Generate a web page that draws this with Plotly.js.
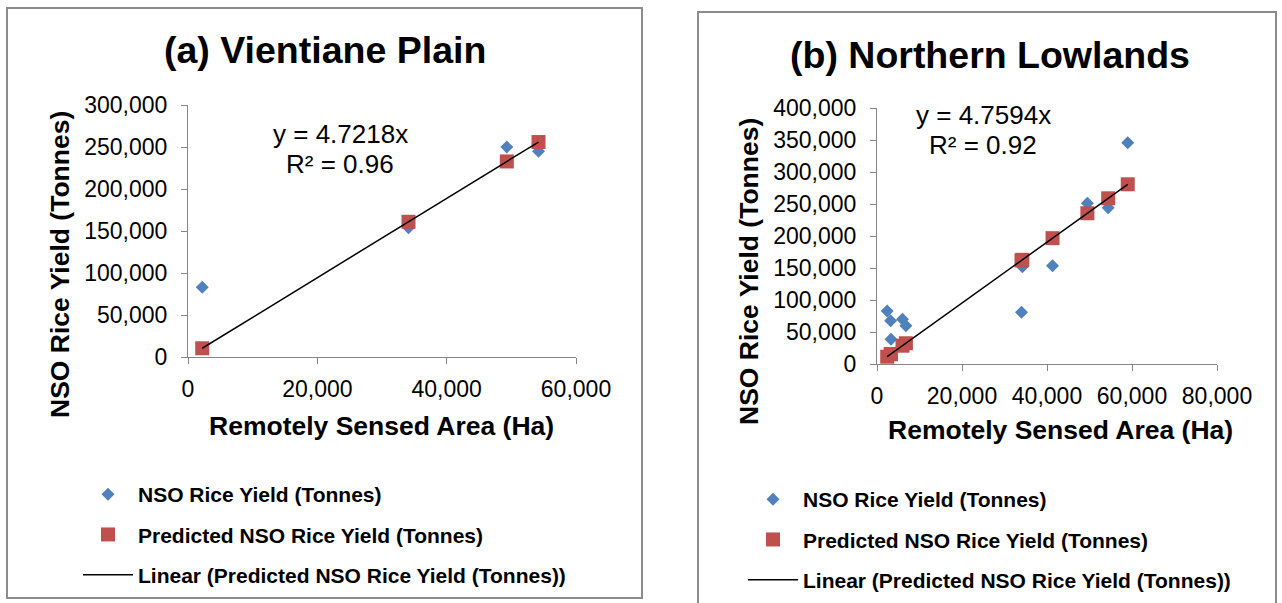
<!DOCTYPE html>
<html>
<head>
<meta charset="utf-8">
<script src="https://cdn.plot.ly/plotly-3.0.1.min.js"></script>
<style>html,body{margin:0;padding:0;background:#fff;}#chart{width:1282px;height:603px;}</style>
</head>
<body>
<div id="chart"></div>
<script>
// ---- Data ----
// (a) Vientiane Plain
const vpArea      = [2200, 34100, 49300, 54200];          // Remotely sensed area (Ha)
const vpNSO       = [83000, 154000, 250000, 245000];      // NSO rice yield (t)
const vpPredicted = [10400, 161000, 232800, 255900];      // predicted yield (t)
const vpTrendX    = [2200, 54200];
const vpTrendY    = [10400, 255900];
const vpEquation  = ["y = 4.7218x", "R² = 0.96"];

// (b) Northern Lowlands
const nlArea      = [2400, 3200, 3300, 6000, 6800, 34000, 34200, 41300, 49500, 54400, 59000];
const nlNSO       = [82800, 67700, 38600, 69800, 59900, 80800, 152000, 153600, 251000, 244000, 345800];
const nlPredicted = [11400, 15200, 15700, 28600, 32400, 161800, 162800, 196600, 235600, 258900, 280800];
const nlTrendX    = [2400, 59000];
const nlTrendY    = [11400, 280800];
const nlEquation  = ["y = 4.7594x", "R² = 0.92"];

const seriesNames = ["NSO Rice Yield (Tonnes)", "Predicted NSO Rice Yield (Tonnes)", "Linear (Predicted NSO Rice Yield (Tonnes))"];
const panelTitles = ["(a) Vientiane Plain", "(b) Northern Lowlands"];
const xTitle = "Remotely Sensed Area (Ha)";
const yTitle = "NSO Rice Yield (Tonnes)";

// ---- Styling ----
const W = 1282, H = 603;
const FONT = "Liberation Sans, Arial, sans-serif";
const BLUE = "#4F81BD", RED = "#C0504D", AXIS = "#868686";
const px = v => v / W;
const py = v => 1 - v / H;

function scatterSet(x, nso, pred, tx, ty, xa, ya, leg) {
  return [
    {x: x, y: nso, type: "scatter", mode: "markers", name: seriesNames[0],
     xaxis: xa, yaxis: ya, legend: leg, legendgroup: leg + "a",
     marker: {symbol: "diamond", size: 10, color: BLUE, line: {width: 0}}},
    {x: x, y: pred, type: "scatter", mode: "markers", name: seriesNames[1],
     xaxis: xa, yaxis: ya, legend: leg, legendgroup: leg + "b",
     marker: {symbol: "square", size: 14, color: RED, line: {width: 0}}},
    {x: tx, y: ty, type: "scatter", mode: "lines", name: seriesNames[2],
     xaxis: xa, yaxis: ya, legend: leg, legendgroup: leg + "c",
     line: {color: "#000000", width: 1.5}}
  ];
}

const data = [
  ...scatterSet(vpArea, vpNSO, vpPredicted, vpTrendX, vpTrendY, "x", "y", "legend"),
  ...scatterSet(nlArea, nlNSO, nlPredicted, nlTrendX, nlTrendY, "x2", "y2", "legend2")
];

function axis(domain, range, dtick, anchor, standoff) {
  return {
    domain: domain, range: range, dtick: dtick, tick0: 0, anchor: anchor,
    showgrid: false, zeroline: false, showline: true, linecolor: AXIS, linewidth: 1,
    ticks: "outside", ticklen: 6, tickcolor: AXIS, tickwidth: 1,
    tickformat: ",d", ticklabelstandoff: standoff,
    tickfont: {family: FONT, size: 23, color: "#000"}, fixedrange: true
  };
}

const legendBase = {
  xanchor: "left", yanchor: "top", bgcolor: "rgba(0,0,0,0)", borderwidth: 0,
  font: {family: FONT, size: 21, color: "#000", weight: 700},
  tracegroupgap: 10, itemwidth: 50
};

const ann = (text, x, y, size, bold, angle) => ({
  text: text, xref: "paper", yref: "paper", x: px(x), y: py(y),
  xanchor: "center", yanchor: "middle", showarrow: false, textangle: angle || 0,
  font: {family: FONT, size: size, color: "#000", weight: bold ? 700 : 400}
});

const layout = {
  width: W, height: H,
  margin: {l: 0, r: 0, t: 0, b: 0},
  paper_bgcolor: "#fff", plot_bgcolor: "#fff",
  showlegend: true,
  xaxis:  axis([px(188), px(576)], [0, 60000], 20000, "y", 5),
  yaxis:  axis([py(357), py(105)], [0, 300000], 50000, "x", 9),
  xaxis2: axis([px(877), px(1217)], [0, 80000], 20000, "y2", 5),
  yaxis2: axis([py(364), py(108)], [0, 400000], 50000, "x2", 9),
  legend:  Object.assign({}, legendBase, {x: px(78), y: py(474)}),
  legend2: Object.assign({}, legendBase, {x: px(743), y: py(479)}),
  annotations: [
    ann(panelTitles[0], 325, 50, 37.5, true),
    ann(panelTitles[1], 990, 55, 37.5, true),
    ann(xTitle, 381, 426, 26.5, true),
    ann(xTitle, 1060, 430, 26.5, true),
    ann(yTitle, 60, 265, 26.5, true, -90),
    ann(yTitle, 749, 272, 26.5, true, -90),
    ann(vpEquation[0], 340, 134, 26, false),
    ann(vpEquation[1], 340, 164, 26, false),
    ann(nlEquation[0], 983, 115, 26, false),
    ann(nlEquation[1], 983, 145, 26, false)
  ],
  shapes: [
    {type: "rect", xref: "paper", yref: "paper", x0: px(7), x1: px(642), y0: py(598), y1: py(8),
     line: {color: "#8c8c8c", width: 2}, layer: "below"},
    {type: "rect", xref: "paper", yref: "paper", x0: px(698), x1: px(1276), y0: py(640), y1: py(12),
     line: {color: "#8c8c8c", width: 2}, layer: "below"}
  ]
};

Plotly.newPlot("chart", data, layout, {displayModeBar: false, staticPlot: true});
</script>
</body>
</html>
